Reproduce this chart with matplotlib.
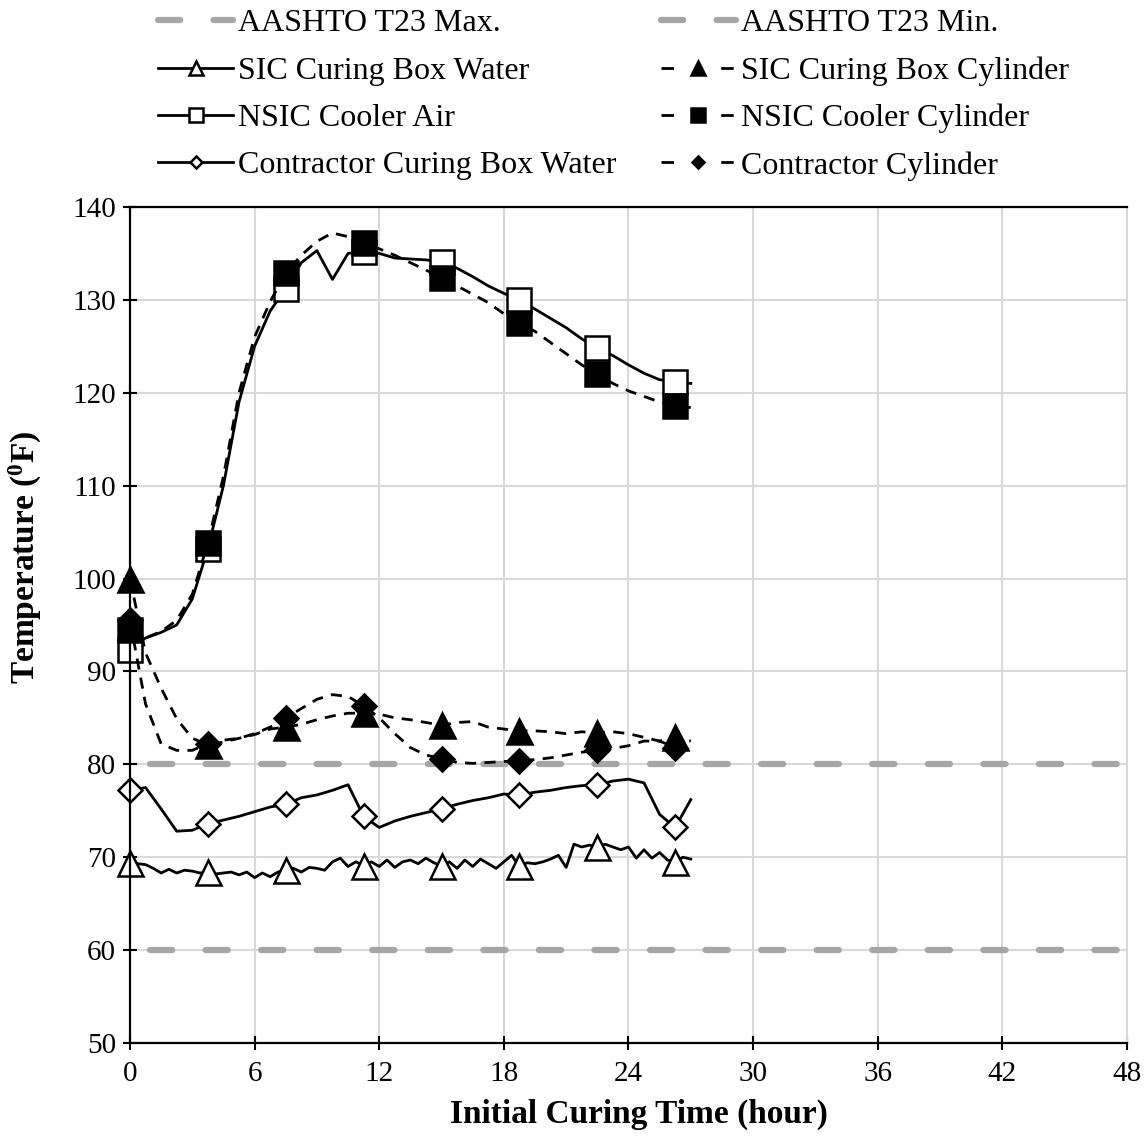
import numpy as np
import matplotlib
matplotlib.use("Agg")
import matplotlib.pyplot as plt
from matplotlib.lines import Line2D

plt.rcParams["font.family"] = ["Liberation Serif", "DejaVu Serif"]
plt.rcParams["mathtext.fontset"] = "custom"
plt.rcParams["mathtext.rm"] = "Liberation Serif"
plt.rcParams["mathtext.bf"] = "Liberation Serif:bold"
plt.rcParams["lines.scale_dashes"] = False

# Time bases (hours): readings every 0.75 h, water probe every 0.375 h
t_coarse = np.arange(37) * 0.75
t_fine = np.arange(73) * 0.375

# AASHTO T23 limits (degF)
aashto_x = [0, 48]
aashto_max = [80, 80]
aashto_min = [60, 60]

# SIC curing box water (fine time base)
sic_water = [
    69.4, 69.3, 69.2, 68.8, 68.3, 68.7, 68.3, 68.6, 68.5, 68.3,
    68.4, 68.2, 68.3, 68.4, 68.1, 68.4, 67.8, 68.3, 67.9, 68.4,
    68.6, 68.8, 68.4, 68.9, 68.8, 68.6, 69.5, 69.9, 69.0, 69.5,
    69.1, 69.5, 69.0, 69.7, 68.9, 69.5, 69.7, 69.3, 69.9, 69.4,
    69.1, 69.5, 68.8, 69.7, 69.0, 69.8, 69.3, 68.8, 69.5, 70.2,
    69.0, 69.4, 69.3, 69.5, 69.8, 70.2, 68.9, 71.4, 71.1, 71.3,
    71.1, 71.4, 71.1, 70.8, 71.1, 69.9, 70.8, 69.9, 70.5, 69.7,
    69.5, 70.0, 69.8,
]

# SIC curing box cylinder
sic_cyl = [
    100.0, 92.0, 88.2, 84.9, 82.8, 82.1, 82.4, 82.8, 83.2, 83.8,
    84.0, 84.3, 84.8, 85.2, 85.5, 85.5, 85.4, 85.0, 84.8, 84.5,
    84.2, 84.5, 84.6, 84.0, 83.8, 83.6, 83.6, 83.5, 83.3, 83.5,
    83.4, 83.5, 83.3, 82.9, 82.5, 82.9, 82.5,
]

# NSIC cooler air
nsic_air = [
    92.3, 93.6, 94.2, 95.0, 97.8, 103.2, 110.0, 119.0, 125.0, 128.8,
    131.2, 134.0, 135.3, 132.2, 135.0, 135.2, 135.0, 134.5, 134.4, 134.3,
    134.1, 133.4, 132.5, 131.5, 130.7, 130.0, 129.0, 128.0, 127.0, 125.8,
    124.8, 124.0, 123.0, 122.1, 121.4, 121.2, 121.0,
]

# NSIC cooler cylinder
nsic_cyl = [
    94.5, 93.6, 94.3, 95.5, 98.3, 103.8, 111.0, 120.0, 126.0, 129.8,
    132.9, 134.8, 136.3, 137.2, 136.8, 136.1, 135.5, 134.8, 134.0, 133.2,
    132.4, 131.5, 130.6, 129.7, 128.5, 127.5, 126.6, 125.4, 124.2, 123.0,
    122.0, 121.0, 120.2, 119.6, 119.0, 118.6, 118.4,
]

# Contractor curing box water
contr_water = [
    77.2, 77.5, 75.2, 72.8, 72.9, 73.6, 74.0, 74.4, 74.9, 75.4,
    75.7, 76.4, 76.7, 77.2, 77.8, 74.4, 73.2, 73.9, 74.4, 74.8,
    75.2, 75.7, 76.1, 76.4, 76.8, 76.7, 77.0, 77.2, 77.5, 77.7,
    77.8, 78.2, 78.4, 78.0, 74.6, 73.2, 76.2,
]

# Contractor cylinder
contr_cyl = [
    95.5, 86.5, 82.2, 81.5, 81.5, 82.2, 82.6, 82.8, 83.3, 84.0,
    85.0, 86.0, 87.0, 87.5, 87.3, 86.3, 85.0, 83.3, 81.8, 81.0,
    80.6, 80.2, 80.1, 80.2, 80.3, 80.4, 80.5, 80.7, 81.0, 81.3,
    81.5, 81.7, 82.0, 82.5, 82.5, 81.8, 82.0,
]

fig = plt.figure(figsize=(11.46, 11.44), dpi=100)
ax = fig.add_axes([0.1134, 0.0883, 0.870, 0.7308])

lw = 2.0
mew = 1.8
dash = (8, 6)
gray = "#a6a6a6"
limit_kw = dict(color=gray, lw=4.5, dash_capstyle="round")

h_max, = ax.plot(aashto_x, aashto_max, linestyle=(25.6, (16, 24)), **limit_kw)
h_min, = ax.plot(aashto_x, aashto_min, linestyle=(25.6, (16, 24)), **limit_kw)

common = dict(color="black", lw=lw, mec="black", mew=mew, clip_on=False)
h_sw, = ax.plot(t_fine, sic_water, marker="^", ms=18, mfc="white", markevery=10,
                label="SIC Curing Box Water", **common)
h_sc, = ax.plot(t_coarse, sic_cyl, dashes=dash, marker="^", ms=18, mfc="black",
                markevery=5, label="SIC Curing Box Cylinder", **common)
h_na, = ax.plot(t_coarse, nsic_air, marker="s", ms=17.5, mfc="white", markevery=5,
                label="NSIC Cooler Air", **common)
h_nc, = ax.plot(t_coarse, nsic_cyl, dashes=dash, marker="s", ms=17.5, mfc="black",
                markevery=5, label="NSIC Cooler Cylinder", **common)
h_cw, = ax.plot(t_coarse, contr_water, marker="D", ms=12, mfc="white", markevery=5,
                label="Contractor Curing Box Water", **common)
h_cc, = ax.plot(t_coarse, contr_cyl, dashes=dash, marker="D", ms=12, mfc="black",
                markevery=5, label="Contractor Cylinder", **common)

ax.set_xlim(0, 48)
ax.set_ylim(50, 140)
ax.set_xticks(np.arange(0, 49, 6))
ax.set_yticks(np.arange(50, 141, 10))
ax.grid(True, color="#d9d9d9", lw=1.5)
ax.set_axisbelow(True)
for side in ("left", "bottom", "top"):
    ax.spines[side].set_color("black")
    ax.spines[side].set_linewidth(1.6)
ax.spines["right"].set_color("#d9d9d9")
ax.spines["right"].set_linewidth(1.5)
ax.tick_params(direction="inout", length=10, width=1.5, labelsize=21, pad=5)
ax.tick_params(axis="x", pad=8)

ax.set_xlabel("Initial Curing Time (hour)", fontsize=24, fontweight="bold")
ax.set_ylabel(r"Temperature ($\mathbf{^{0}}$F)", fontsize=24, fontweight="bold")
ax.xaxis.set_label_coords(0.511, -0.067)
ax.yaxis.set_label_coords(-0.086, 0.581)

# legend keys: limit lines start on a full dash, dashed series show one dash per side
key_max = Line2D([], [], linestyle=(0, (16, 24)), label="AASHTO T23 Max.", **limit_kw)
key_min = Line2D([], [], linestyle=(0, (16, 24)), label="AASHTO T23 Min.", **limit_kw)


def dashed_key(src):
    return Line2D([], [], color="black", lw=lw, linestyle=(0, (9, 34)),
                  marker=src.get_marker(), ms=src.get_markersize(),
                  mfc=src.get_markerfacecolor(), mec="black", mew=mew,
                  label=src.get_label())


handles = [key_max, h_sw, h_na, h_cw, key_min,
           dashed_key(h_sc), dashed_key(h_nc), dashed_key(h_cc)]
fig.legend(handles=handles, labels=[h.get_label() for h in handles], ncol=2,
           loc="upper left", bbox_to_anchor=(0.124, 1.006), frameon=False,
           fontsize=23, handlelength=2.35, handletextpad=0.15, columnspacing=1.39,
           labelspacing=0.56, borderpad=0, markerscale=0.55)

fig.savefig("out.png", dpi=100)
